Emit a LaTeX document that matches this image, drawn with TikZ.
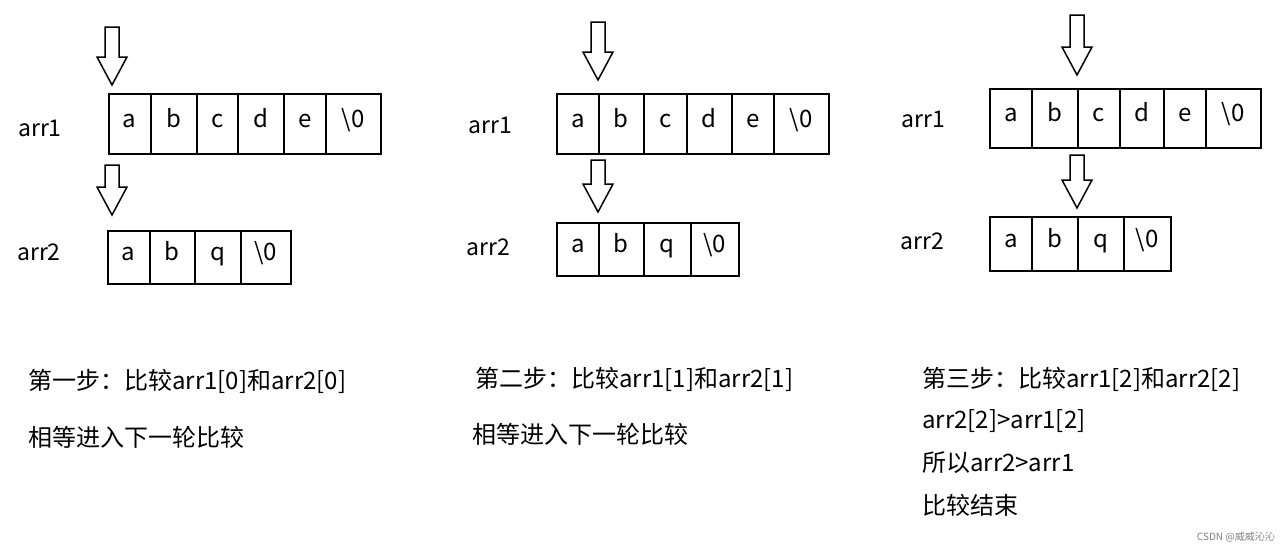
\documentclass[tikz,border=0pt]{standalone}
\usepackage{fontspec}
\setmainfont{Noto Sans CJK SC}
\begin{document}
\begin{tikzpicture}[x=1pt,y=-1pt,
  cell/.style={draw,line width=1.5pt,inner sep=0pt,text height=1.6ex,text depth=0.3ex,font=\fontsize{24}{27}\selectfont},
  lbl/.style={font=\fontsize{23}{26}\selectfont,anchor=west,inner sep=0pt},
  txt/.style={font=\fontsize{24}{27}\selectfont,anchor=west,inner sep=0pt}]
\useasboundingbox (0,0) rectangle (1280,549);
\newcommand{\harrow}[3]{% x, ytop, ybottom
  \draw[line width=1.5pt,line join=miter] (#1-7,#2) -- (#1+7,#2) -- (#1+7,#3-28) -- (#1+15,#3-28) -- (#1,#3) -- (#1-15,#3-28) -- (#1-7,#3-28) -- cycle;}
\newcommand{\cells}[4]{% prefix, y1, y2, list
  \foreach \xa/\xb/\t [count=\i] in {#4} {
    \pgfmathsetmacro{\w}{\xb-\xa}
    \pgfmathsetmacro{\h}{#3-#2}
    \node[cell, minimum width=\w pt, minimum height=\h pt, anchor=north west] (#1\i) at (\xa,#2) {\t};}
}
% panel 1
\cells{pa}{93}{153}{108/150/a,150/196/b,196/237/c,237/283/d,283/325/e,325/380/\textbackslash0}
\cells{pb}{230}{283}{107/149/a,149/194/b,194/240/q,240/290/\textbackslash0}
\harrow{112}{27}{85}
\harrow{112}{165}{215}
\node[lbl] (l1a) at (18,128) {arr1};
\node[lbl] (l1b) at (17,252) {arr2};
\node[txt] (t1a) at (28,381) {第一步：比较arr1[0]和arr2[0]};
\node[txt] (t1b) at (28,437) {相等进入下一轮比较};
% panel 2
\cells{qa}{93}{153}{556/598/a,598/643/b,643/686/c,686/731/d,731/773/e,773/828/\textbackslash0}
\cells{qb}{222}{275}{556/598/a,598/643/b,643/690/q,690/738/\textbackslash0}
\harrow{598}{22}{80}
\harrow{598}{160}{212}
\node[lbl] (l2a) at (468,125) {arr1};
\node[lbl] (l2b) at (466,247) {arr2};
\node[txt] (t2a) at (475,379) {第二步：比较arr1[1]和arr2[1]};
\node[txt] (t2b) at (472,434) {相等进入下一轮比较};
% panel 3
\cells{ra}{88}{147}{989/1031/a,1031/1077/b,1077/1119/c,1119/1163/d,1163/1205/e,1205/1260/\textbackslash0}
\cells{rb}{216}{270}{989/1031/a,1031/1077/b,1077/1123/q,1123/1170/\textbackslash0}
\harrow{1077}{15}{75}
\harrow{1077}{155}{208}
\node[lbl] (l3a) at (901,119) {arr1};
\node[lbl] (l3b) at (900,241) {arr2};
\node[txt] (t3a) at (922,379) {第三步：比较arr1[2]和arr2[2]};
\node[txt] (t3b) at (922,421) {arr2[2]>arr1[2]};
\node[txt] (t3c) at (922,463) {所以arr2>arr1};
\node[txt] (t3d) at (922,505) {比较结束};
\node[font=\fontsize{10}{12}\selectfont,text=gray,anchor=east,inner sep=0pt] (wm) at (1275,537) {CSDN @威威沁沁};
\end{tikzpicture}
\end{document}
